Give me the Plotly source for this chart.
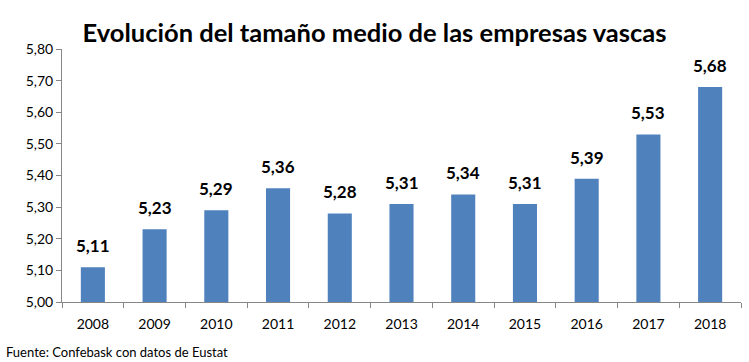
import plotly.graph_objects as go

years = ["2008", "2009", "2010", "2011", "2012", "2013", "2014", "2015", "2016", "2017", "2018"]
values = [5.11, 5.23, 5.29, 5.36, 5.28, 5.31, 5.34, 5.31, 5.39, 5.53, 5.68]
y_ticks = [5.00, 5.10, 5.20, 5.30, 5.40, 5.50, 5.60, 5.70, 5.80]

fig = go.Figure(go.Bar(
    x=years, y=values,
    marker=dict(color="#4F81BD", line=dict(width=0)),
    hoverinfo="none",
))

label_annotations = [
    dict(x=i, y=v, xref="x", yref="y", text=f"<b>{v:.2f}</b>".replace(".", ","),
         showarrow=False, yanchor="bottom", yshift=9,
         font=dict(family="Lato", size=17, color="black"))
    for i, v in enumerate(values)
]

fig.update_layout(
    width=749, height=362,
    margin=dict(l=62, r=8, t=49, b=60),
    paper_bgcolor="white", plot_bgcolor="white",
    separators=",.",
    bargap=0.61,
    showlegend=False,
    title=dict(text="<b>Evolución del tamaño medio de las empresas vascas</b>",
               x=0.5, xanchor="center", y=0.91, yanchor="middle",
               font=dict(family="Lato", size=25.5, color="black")),
    font=dict(family="Lato", size=14, color="black"),
    xaxis=dict(type="category", range=[-0.5, len(years) - 0.5],
               showline=True, linecolor="#868686", linewidth=1,
               ticks="outside", tickson="boundaries", ticklen=5, tickcolor="#868686",
               tickfont=dict(size=14), showgrid=False, ticklabelstandoff=9),
    yaxis=dict(range=[5.0, 5.8], tickvals=y_ticks, tickformat=".2f",
               showline=True, linecolor="#868686", linewidth=1,
               ticks="outside", ticklen=5, tickcolor="#868686",
               tickfont=dict(size=14), showgrid=False, zeroline=False),
    annotations=label_annotations + [
        dict(text="Fuente: Confebask con datos de Eustat", xref="paper", yref="paper",
             x=-58/679, y=-50/253, xanchor="left", yanchor="middle", showarrow=False,
             font=dict(family="Lato", size=13, color="black"))],
)

fig.write_html("out.html", config={"displayModeBar": False},
               post_script="document.body.style.margin='0';")
